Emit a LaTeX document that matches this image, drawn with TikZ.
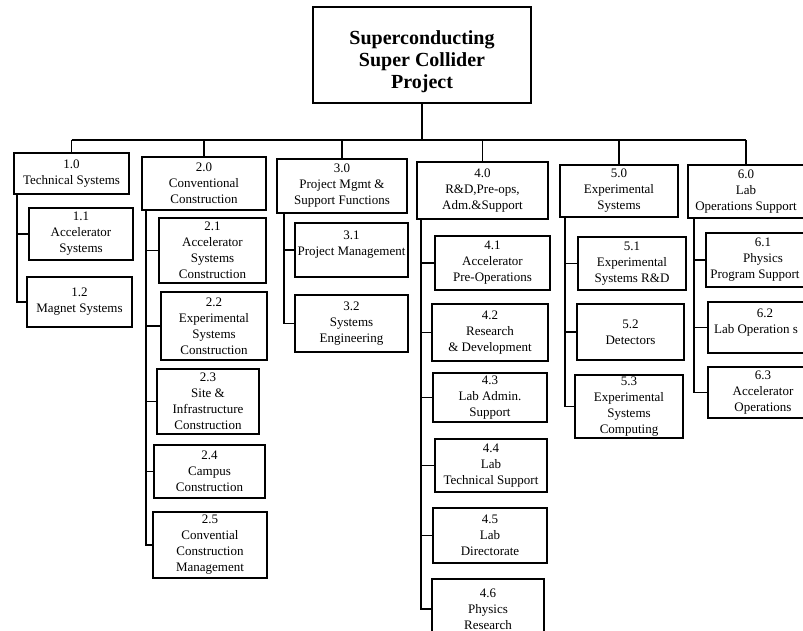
\documentclass[tikz,border=0pt]{standalone}
\usepackage{fontspec}
\setmainfont{Liberation Serif}
\tikzset{
  wbs/.style={draw,line width=1.1pt,align=center,inner sep=1pt,
    font=\fontsize{13}{16}\selectfont},
  dims/.style 2 args={minimum width=#1,minimum height=#2},
  link/.style={line width=1.1pt}
}
\begin{document}
\begin{tikzpicture}[x=1pt,y=-1pt]
        \useasboundingbox (0,0) rectangle (803,631);
        \clip (0,0) rectangle (803,631);
        %% project box
        \node[wbs,dims={218pt}{96pt},font=\fontsize{20}{22}\selectfont\bfseries] (top) at (422,55) {\rule{0pt}{28pt}Superconducting\\Super Collider\\Project};
        %% level one
        \node[wbs,dims={115pt}{41pt}] (n10) at (71.5,173.5) {1.0\\Technical Systems};
        \node[wbs,dims={124pt}{53pt}] (n20) at (204,183.5) {2.0\\Conventional\\Construction};
        \node[wbs,dims={130pt}{54pt}] (n30) at (342,186) {3.0\\Project Mgmt \&\\Support Functions};
        \node[wbs,dims={131pt}{57pt}] (n40) at (482.5,190.5) {4.0\\R\&D,Pre-ops,\\Adm.\&Support};
        \node[wbs,dims={118pt}{52pt}] (n50) at (619,191) {5.0\\Experimental\\Systems};
        \node[wbs,dims={116pt}{53pt}] (n60) at (746,191.5) {6.0\\Lab\\Operations Support};
        %% technical systems
        \node[wbs,dims={104pt}{52pt}] (n11) at (81,234) {1.1\\Accelerator\\Systems};
        \node[wbs,dims={105pt}{50pt}] (n12) at (79.5,302) {1.2\\Magnet Systems};
        %% conventional construction
        \node[wbs,dims={107pt}{65pt}] (n21) at (212.5,250.5) {2.1\\Accelerator\\Systems\\Construction};
        \node[wbs,dims={106pt}{68pt}] (n22) at (214,326) {2.2\\Experimental\\Systems\\Construction};
        \node[wbs,dims={102pt}{65pt}] (n23) at (208,401.5) {2.3\\Site \&\\Infrastructure\\Construction};
        \node[wbs,dims={111pt}{53pt}] (n24) at (209.5,471.5) {2.4\\Campus\\Construction};
        \node[wbs,dims={114pt}{66pt}] (n25) at (210,545) {2.5\\Convential\\Construction\\Management};
        %% project management
        \node[wbs,dims={113pt}{54pt}] (n31) at (351.5,250) {3.1\\Project Management\\[-3pt]};
        \node[wbs,dims={113pt}{57pt}] (n32) at (351.5,323.5) {3.2\\Systems\\Engineering};
        %% r&d, pre-ops
        \node[wbs,dims={115pt}{54pt}] (n41) at (492.5,263) {4.1\\Accelerator\\Pre-Operations};
        \node[wbs,dims={116pt}{57pt}] (n42) at (490,332.5) {4.2\\Research\\\& Development};
        \node[wbs,dims={114pt}{49pt}] (n43) at (490,397.5) {4.3\\Lab Admin.\\Support};
        \node[wbs,dims={112pt}{53pt}] (n44) at (491,465.5) {4.4\\Lab\\Technical Support};
        \node[wbs,dims={114pt}{55pt}] (n45) at (490,535.5) {4.5\\Lab\\Directorate};
        \node[wbs,dims={112pt}{60pt}] (n46) at (488,609) {4.6\\Physics\\Research};
        %% experimental systems
        \node[wbs,dims={108pt}{53pt}] (n51) at (632,263.5) {5.1\\Experimental\\Systems R\&D};
        \node[wbs,dims={107pt}{56pt}] (n52) at (630.5,332) {5.2\\Detectors};
        \node[wbs,dims={108pt}{63pt}] (n53) at (629,406.5) {5.3\\Experimental\\Systems\\Computing};
        %% lab operations
        \node[wbs,dims={114pt}{54pt}] (n61) at (763,260) {6.1\\Physics\\Program Support\kern16pt\relax};
        \node[wbs,dims={114pt}{51pt}] (n62) at (765,327.5) {6.2\\Lab Operation s\kern18pt\relax\\[-4pt]};
        \node[wbs,dims={110pt}{51pt}] (n63) at (763,392.5) {6.3\\Accelerator\\Operations};
        %% bus
        \coordinate (bus) at (0,140);
        \draw[link] (top.south) -- (top.south |- bus);
        \draw[link] (n10.north |- bus) -- (n60.north |- bus);
        \foreach \n in {n10,n20,n30,n40,n50,n60}
          \draw[link] (\n.north |- bus) -- (\n.north);
        %% trunks
        \coordinate (t1) at (17,0);
        \coordinate (t2) at (146,0);
        \coordinate (t3) at (284,0);
        \coordinate (t4) at (421,0);
        \coordinate (t5) at (565,0);
        \coordinate (t6) at (694,0);
        \foreach \p/\l/\t in {n10/n12/t1,n20/n25/t2,n30/n32/t3,n40/n46/t4,n50/n53/t5,n60/n63/t6}
          \draw[link] (\p.south -| \t) |- (\l.west);
        \foreach \c/\t in {n11/t1,n21/t2,n22/t2,n23/t2,n24/t2,n31/t3,n41/t4,n42/t4,n43/t4,n44/t4,n45/t4,n51/t5,n52/t5,n61/t6,n62/t6}
          \draw[link] (\c.west -| \t) -- (\c.west);
\end{tikzpicture}
\end{document}
